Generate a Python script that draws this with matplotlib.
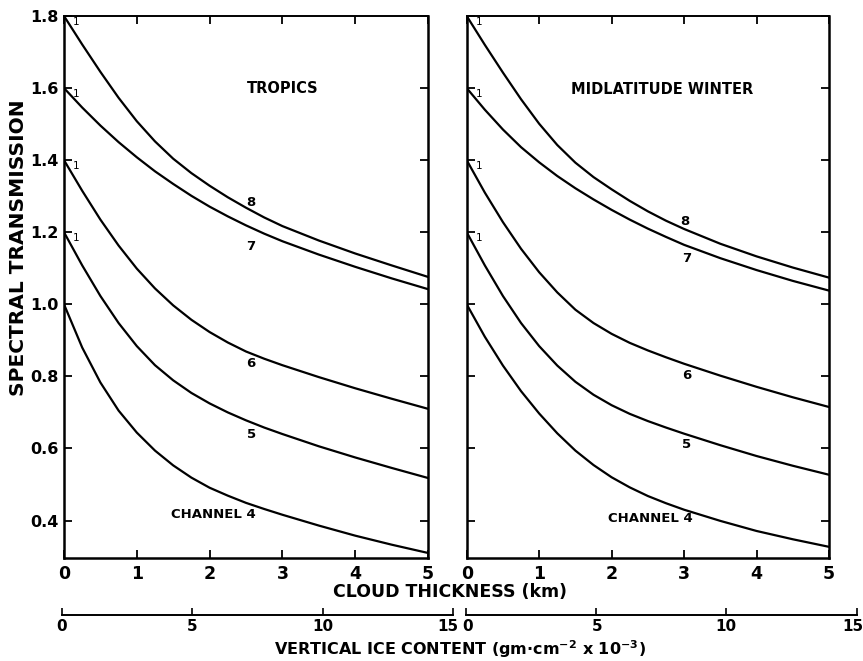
import matplotlib
matplotlib.use("Agg")
import matplotlib.pyplot as plt

# ---------------- data ----------------
thickness_km = [0, 0.25, 0.5, 0.75, 1, 1.25, 1.5, 1.75, 2, 2.25, 2.5, 2.75, 3, 3.5, 4, 4.5, 5]
channels = ["4", "5", "6", "7", "8"]
channel_offsets = [0.0, 0.2, 0.4, 0.6, 0.8]

tropics_ch4 = [1.0, 0.88, 0.783, 0.705, 0.644, 0.594, 0.553, 0.519, 0.491, 0.469, 0.449, 0.432, 0.416, 0.386, 0.358, 0.333, 0.31]
tropics_ch5 = [1.2, 1.108, 1.023, 0.948, 0.884, 0.831, 0.789, 0.754, 0.725, 0.70, 0.678, 0.658, 0.640, 0.606, 0.575, 0.546, 0.518]
tropics_ch6 = [1.4, 1.315, 1.235, 1.163, 1.099, 1.044, 0.997, 0.957, 0.923, 0.894, 0.869, 0.849, 0.831, 0.798, 0.767, 0.738, 0.710]
tropics_ch7 = [1.6, 1.546, 1.496, 1.450, 1.408, 1.369, 1.334, 1.301, 1.271, 1.244, 1.219, 1.196, 1.175, 1.138, 1.104, 1.072, 1.042]
tropics_ch8 = [1.8, 1.721, 1.645, 1.573, 1.508, 1.452, 1.404, 1.364, 1.329, 1.297, 1.268, 1.241, 1.217, 1.177, 1.141, 1.108, 1.076]

midwinter_ch4 = [1.0, 0.91, 0.83, 0.759, 0.697, 0.642, 0.594, 0.554, 0.520, 0.492, 0.468, 0.448, 0.430, 0.399, 0.371, 0.348, 0.327]
midwinter_ch5 = [1.2, 1.108, 1.023, 0.948, 0.884, 0.830, 0.785, 0.749, 0.720, 0.696, 0.676, 0.658, 0.641, 0.609, 0.579, 0.552, 0.527]
midwinter_ch6 = [1.4, 1.31, 1.228, 1.154, 1.089, 1.033, 0.985, 0.948, 0.918, 0.893, 0.872, 0.853, 0.835, 0.802, 0.771, 0.742, 0.715]
midwinter_ch7 = [1.6, 1.54, 1.485, 1.436, 1.394, 1.356, 1.322, 1.291, 1.262, 1.235, 1.21, 1.187, 1.165, 1.128, 1.095, 1.065, 1.038]
midwinter_ch8 = [1.8, 1.72, 1.643, 1.569, 1.501, 1.442, 1.393, 1.353, 1.319, 1.287, 1.258, 1.232, 1.209, 1.168, 1.133, 1.102, 1.074]

y_ticks = [0.4, 0.6, 0.8, 1.0, 1.2, 1.4, 1.6, 1.8]
y_tick_labels = ["0.4", "0.6", "0.8", "1.0", "1.2", "1.4", "1.6", "1.8"]
x_ticks = [0, 1, 2, 3, 4, 5]
ice_ticks = [0, 5, 10, 15]

panels = [
    dict(title="TROPICS", title_pos=(3.01, 1.598),
         series=[tropics_ch4, tropics_ch5, tropics_ch6, tropics_ch7, tropics_ch8],
         label_pos=[(2.05, 0.417), (2.57, 0.640), (2.57, 0.837), (2.57, 1.160), (2.57, 1.282)]),
    dict(title="MIDLATITUDE WINTER", title_pos=(2.70, 1.595),
         series=[midwinter_ch4, midwinter_ch5, midwinter_ch6, midwinter_ch7, midwinter_ch8],
         label_pos=[(2.54, 0.405), (3.03, 0.610), (3.03, 0.802), (3.03, 1.127), (3.01, 1.230)]),
]

# ---------------- figure ----------------
plt.rcParams['font.family'] = ['DejaVu Sans']
plt.rcParams['font.weight'] = 'bold'
W, H = 863, 661
fig = plt.figure(figsize=(W / 100, H / 100), dpi=100)

ax_rects = [(64, 428), (466.7, 829)]
top_px, bottom_px = 16, 558
ice_y_px = 615
ice_spans = [(61.7, 453.3), (465.7, 856.7)]
ice_label_shift = [[0, 0, 0, -5], [2, 1, 0, -4]]

for i, (p, (x0, x1)) in enumerate(zip(panels, ax_rects)):
    ax = fig.add_axes([x0 / W, 1 - bottom_px / H, (x1 - x0) / W, (bottom_px - top_px) / H])
    for s in p["series"]:
        ax.plot(thickness_km, s, color="black", lw=1.6, solid_joinstyle="round")
    ax.set_xlim(0, 5)
    ax.set_ylim(0.296, 1.8)
    ax.set_xticks(x_ticks)
    ax.set_yticks(y_ticks)
    ax.tick_params(direction="in", length=6, width=1.3, top=True, right=True,
                   labelsize=11.5, pad=4)
    ax.tick_params(axis="x", labelsize=12.5, pad=5)
    if i == 0:
        ax.set_yticklabels(y_tick_labels, fontweight="bold")
    else:
        ax.set_yticklabels([])
    ax.set_xticklabels([str(t) for t in x_ticks], fontweight="bold")
    for sp in ax.spines.values():
        sp.set_linewidth(1.8)
    ax.spines["top"].set_linewidth(1.4)
    # text labels
    ax.text(*p["title_pos"], p["title"], ha="center", va="center", fontsize=10.5, fontweight="bold")
    for ch, (lx, ly) in zip(channels, p["label_pos"]):
        txt = "CHANNEL 4" if ch == "4" else ch
        ax.text(lx, ly, txt, ha="center", va="center", fontsize=9.5, fontweight="bold")
    # small '1' reference marks at start of the offset curves
    for off in channel_offsets[1:]:
        ax.text(0.17, 1.0 + off - 0.016, "1", ha="center", va="center", fontsize=7.5,
                fontweight="normal")

    # vertical ice content axis
    ix0, ix1 = ice_spans[i]
    iax = fig.add_axes([ix0 / W, 1 - ice_y_px / H, (ix1 - ix0) / W, 0.001])
    iax.set_xlim(0, 15)
    iax.set_xticks(ice_ticks)
    iax.set_xticklabels([])
    iax.set_yticks([])
    for name in ["top", "left", "right"]:
        iax.spines[name].set_visible(False)
    iax.spines["bottom"].set_linewidth(1.4)
    iax.tick_params(axis="x", direction="in", length=5, width=1.2)
    iax.patch.set_visible(False)
    for t, dx in zip(ice_ticks, ice_label_shift[i]):
        iax.annotate(str(t), xy=(t, 0), xycoords=("data", "axes fraction"),
                     xytext=(dx * 0.72, -3), textcoords="offset points",
                     ha="center", va="top", fontsize=11, fontweight="bold",
                     annotation_clip=False)

fig.text(19 / W, 1 - 248 / H, "SPECTRAL TRANSMISSION", rotation=90, ha="center", va="center",
         fontsize=14.5, fontweight="bold")
fig.text(450 / W, 1 - 592 / H, "CLOUD THICKNESS (km)", ha="center", va="center",
         fontsize=12.5, fontweight="bold")
fig.text(460 / W, 1 - 649 / H,
         r"VERTICAL ICE CONTENT (gm$\cdot$cm$^{\mathbf{-2}}$ x 10$^{\mathbf{-3}}$)",
         ha="center", va="center", fontsize=11.5, fontweight="bold")

fig.savefig("out.png", dpi=100)
